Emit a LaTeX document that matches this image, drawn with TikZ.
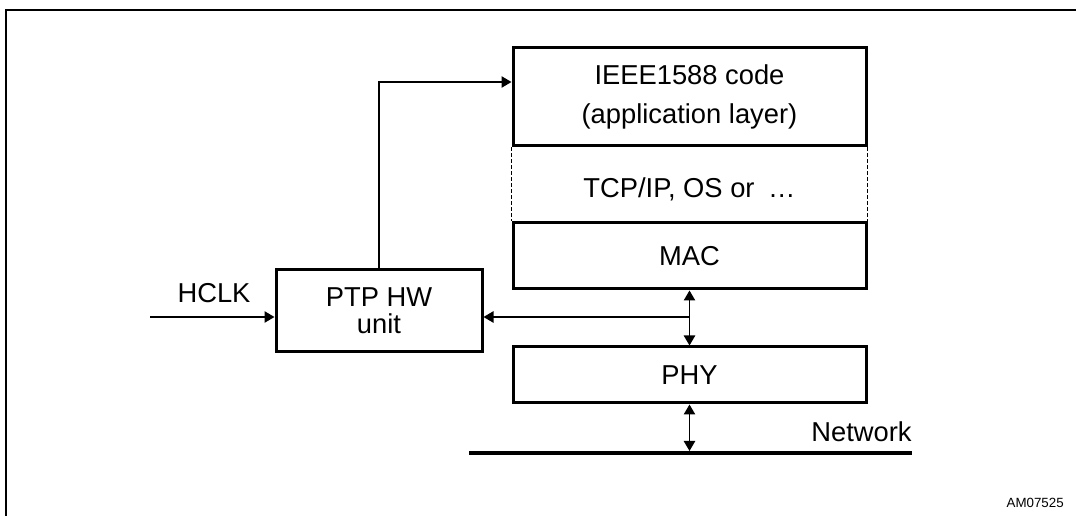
\documentclass[tikz,border=0pt]{standalone}
\usepackage{fontspec}
\setmainfont{Liberation Sans}
\usetikzlibrary{arrows.meta}
\begin{document}
\begin{tikzpicture}[x=0.75pt,y=-0.75pt,
  box/.style={draw,line width=2.25pt,inner sep=0pt,align=center,
    font=\fontsize{20.5}{29}\selectfont},
  lbl/.style={inner sep=0pt,font=\fontsize{20.5}{24}\selectfont},
  conn/.style={line width=1.1pt},
  tip/.style={-{Triangle[length=7.5pt,width=8.5pt]}},
  both/.style={{Triangle[length=7.5pt,width=8.5pt]}-{Triangle[length=7.5pt,width=8.5pt]}},
]
\useasboundingbox (0,0) rectangle (1076,516);
% outer frame
\draw[line width=2pt] (6,520) -- (6,10) -- (1080,10);

% protocol stack
\node[box,minimum width=264.75pt,minimum height=73.5pt] (ieee) at (689.5,97)
  {IEEE1588 code\\(application layer)};
\node[box,minimum width=264.75pt,minimum height=49.5pt] (mac) at (689.5,256) {MAC};
\node[box,minimum width=264.75pt,minimum height=42pt] (phy) at (689.5,375) {PHY};
\node[lbl] (tcp) at (689.5,189) {TCP/IP, OS or\enspace…};
\draw[dashed,line width=0.75pt,dash pattern=on 3pt off 1.5pt]
  (ieee.south west) -- (mac.north west)
  (ieee.south east) -- (mac.north east);

% PTP hardware unit
\node[box,minimum width=154.5pt,minimum height=61.5pt,
  font=\fontsize{20.5}{20}\selectfont] (ptp) at (379,311) {PTP HW\\unit};

% clock input
\coordinate (hclkin) at (150,317);
\node[lbl,anchor=base] (hclk) at (214,303) {HCLK};
\draw[conn,tip] (hclkin) -- (hclkin -| ptp.west);

% MAC/PHY link tapped by the PTP unit
\coordinate (tap) at (689.5,317);
\draw[conn,both] (mac.south) -- (phy.north);
\draw[conn,tip] (tap) -- (tap -| ptp.east);

% time stamps up to the application
\draw[conn,tip] (ptp.north) |- (ieee.west |- 0,82);

% network
\coordinate (netL) at (469,453);
\coordinate (netR) at (912,453);
\draw[line width=3pt] (netL) -- (netR);
\coordinate (netTap) at (689.5,451);
\draw[conn,both] (phy.south) -- (netTap);
\node[lbl,anchor=base] (net) at (861.5,442) {Network};

\node[anchor=base east,inner sep=0pt,font=\fontsize{10}{12}\selectfont] (ref) at (1064,508) {AM07525};
\end{tikzpicture}
\end{document}
